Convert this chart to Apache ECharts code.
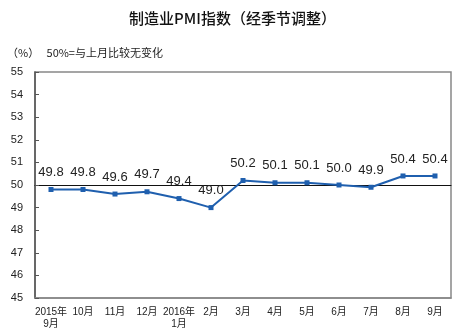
<!DOCTYPE html>
<html>
<head>
<meta charset="utf-8">
<script src="https://cdn.jsdelivr.net/npm/echarts@6/dist/echarts.min.js"></script>
<style>
html, body { margin: 0; padding: 0; background: #fff; }
#main { width: 465px; height: 334px; }
</style>
</head>
<body>
<div id="main"></div>
<script>
// 月份
var months = ['2015年\n9月', '10月', '11月', '12月', '2016年\n1月', '2月', '3月',
              '4月', '5月', '6月', '7月', '8月', '9月'];
// 制造业PMI
var pmi = [49.8, 49.8, 49.6, 49.7, 49.4, 49.0, 50.2, 50.1, 50.1, 50.0, 49.9, 50.4, 50.4];
var yTicks = [45, 46, 47, 48, 49, 50, 51, 52, 53, 54, 55];

var chart = echarts.init(document.getElementById('main'));
var font = 'Arial, "Liberation Sans", "Noto Sans CJK SC", sans-serif';

chart.setOption({
    animation: false,
    textStyle: { fontFamily: font },
    title: [{
        text: '制造业PMI指数（经季节调整）',
        left: 'center', top: 6,
        textStyle: { fontSize: 15, fontWeight: 500, color: '#111', fontFamily: '"Noto Sans CJK SC", sans-serif' }
    }, {
        text: '（%）   50%=与上月比较无变化',
        left: 2, top: 42,
        textStyle: { fontSize: 11, fontWeight: 'normal', color: '#222', fontFamily: '"Noto Sans CJK SC", sans-serif' }
    }],
    grid: { left: 35, right: 14, top: 72, bottom: 36 },
    xAxis: [{
        type: 'category',
        data: months,
        boundaryGap: true,
        axisLine: { lineStyle: { color: '#888', width: 1.5 } },
        axisTick: { show: false },
        axisLabel: { color: '#222', fontSize: 10, lineHeight: 12, margin: 8, interval: 0 }
    }, {
        // 50 线
        type: 'category',
        data: months,
        position: 'bottom',
        offset: -113,
        boundaryGap: true,
        axisLine: { lineStyle: { color: '#111', width: 1 } },
        axisTick: { inside: true, length: 4, lineStyle: { color: '#555' } },
        axisLabel: { show: false }
    }],
    yAxis: {
        type: 'value',
        min: yTicks[0], max: yTicks[yTicks.length - 1], interval: 1,
        axisLine: { show: true, lineStyle: { color: '#555', width: 1.5 } },
        axisTick: { show: true, inside: true, length: 4, lineStyle: { color: '#555' } },
        axisLabel: { color: '#222', fontSize: 11, margin: 12 },
        splitLine: { show: false }
    },
    graphic: [{
        type: 'rect',
        shape: { x: 35, y: 72, width: 416, height: 226 },
        style: { fill: 'none', stroke: '#888', lineWidth: 1.5 },
        silent: true
    }],
    series: [{
        type: 'line',
        data: pmi,
        symbol: 'rect',
        symbolSize: 5,
        lineStyle: { color: '#1f5fae', width: 2 },
        itemStyle: { color: '#1f5fae' },
        label: {
            show: true, position: 'top', distance: 8,
            color: '#222', fontSize: 13,
            formatter: function (p) { return p.value.toFixed(1); }
        }
    }]
});
</script>
</body>
</html>
